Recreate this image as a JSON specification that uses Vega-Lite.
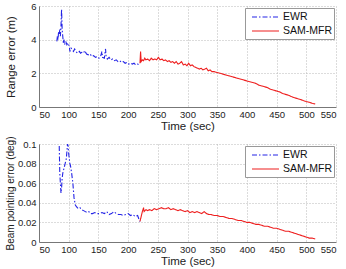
{
  "$schema": "https://vega.github.io/schema/vega-lite/v6.json",
  "autosize": {"type": "pad"},
  "padding": {"left": 5, "top": 1, "right": 5, "bottom": 0},
  "background": "white",
  "spacing": 4,
  "config": {
    "view": {"stroke": null},
    "font": "Liberation Sans",
    "axis": {
      "labelFont": "Liberation Sans",
      "titleFont": "Liberation Sans",
      "labelFontSize": 9.5,
      "titleFontSize": 11.5,
      "titleFontWeight": "normal",
      "labelColor": "#222",
      "titleColor": "#222",
      "domainColor": "#777",
      "domainWidth": 1,
      "ticks": false,
      "gridColor": "#b8b8b8",
      "gridDash": [1, 2],
      "gridWidth": 1,
      "labelPadding": 3
    },
    "axisX": {"labelPadding": 2, "titlePadding": 2},
    "legend": {
      "orient": "top-right",
      "offset": 2,
      "title": null,
      "symbolType": "M-1,0H3.5",
      "symbolSize": 144,
      "symbolStrokeWidth": 1.2,
      "symbolOffset": 4,
      "labelFont": "Liberation Sans",
      "labelFontSize": 10.5,
      "labelColor": "#111",
      "labelOffset": 18,
      "rowPadding": 1,
      "padding": 2,
      "strokeColor": "#999",
      "fillColor": "white"
    }
  },
  "datasets": {
    "range": [
      {"t": 80, "v": 3.9, "s": "EWR"}, {"t": 81, "v": 4.2, "s": "EWR"}, {"t": 82, "v": 4.0, "s": "EWR"},
      {"t": 83, "v": 4.5, "s": "EWR"}, {"t": 84, "v": 4.3, "s": "EWR"}, {"t": 85, "v": 4.6, "s": "EWR"},
      {"t": 86, "v": 4.2, "s": "EWR"}, {"t": 87, "v": 4.8, "s": "EWR"}, {"t": 88, "v": 5.8, "s": "EWR"},
      {"t": 89, "v": 4.6, "s": "EWR"}, {"t": 90, "v": 4.2, "s": "EWR"}, {"t": 91, "v": 3.8, "s": "EWR"},
      {"t": 92, "v": 4.0, "s": "EWR"}, {"t": 93, "v": 3.7, "s": "EWR"}, {"t": 95, "v": 3.9, "s": "EWR"},
      {"t": 97, "v": 3.7, "s": "EWR"}, {"t": 99, "v": 3.8, "s": "EWR"}, {"t": 101, "v": 3.6, "s": "EWR"},
      {"t": 102, "v": 3.3, "s": "EWR"}, {"t": 104, "v": 3.5, "s": "EWR"}, {"t": 106, "v": 3.4, "s": "EWR"},
      {"t": 108, "v": 3.3, "s": "EWR"}, {"t": 110, "v": 3.45, "s": "EWR"}, {"t": 112, "v": 3.3, "s": "EWR"},
      {"t": 115, "v": 3.2, "s": "EWR"}, {"t": 118, "v": 3.3, "s": "EWR"}, {"t": 120, "v": 3.2, "s": "EWR"},
      {"t": 122, "v": 3.25, "s": "EWR"}, {"t": 125, "v": 3.2, "s": "EWR"}, {"t": 127, "v": 3.35, "s": "EWR"},
      {"t": 130, "v": 3.15, "s": "EWR"}, {"t": 133, "v": 3.1, "s": "EWR"}, {"t": 136, "v": 3.15, "s": "EWR"},
      {"t": 139, "v": 3.0, "s": "EWR"}, {"t": 142, "v": 3.05, "s": "EWR"}, {"t": 145, "v": 2.95, "s": "EWR"},
      {"t": 148, "v": 3.0, "s": "EWR"}, {"t": 151, "v": 2.9, "s": "EWR"}, {"t": 154, "v": 3.05, "s": "EWR"},
      {"t": 156, "v": 3.3, "s": "EWR"}, {"t": 157, "v": 2.95, "s": "EWR"}, {"t": 160, "v": 2.9, "s": "EWR"},
      {"t": 162, "v": 3.45, "s": "EWR"}, {"t": 163, "v": 3.0, "s": "EWR"}, {"t": 165, "v": 2.85, "s": "EWR"},
      {"t": 168, "v": 2.95, "s": "EWR"}, {"t": 171, "v": 2.8, "s": "EWR"}, {"t": 174, "v": 2.85, "s": "EWR"},
      {"t": 177, "v": 2.75, "s": "EWR"}, {"t": 180, "v": 2.8, "s": "EWR"}, {"t": 183, "v": 2.7, "s": "EWR"},
      {"t": 186, "v": 2.75, "s": "EWR"}, {"t": 189, "v": 2.65, "s": "EWR"}, {"t": 192, "v": 2.7, "s": "EWR"},
      {"t": 195, "v": 2.6, "s": "EWR"}, {"t": 198, "v": 2.65, "s": "EWR"}, {"t": 201, "v": 2.55, "s": "EWR"},
      {"t": 204, "v": 2.6, "s": "EWR"}, {"t": 207, "v": 2.55, "s": "EWR"}, {"t": 210, "v": 2.6, "s": "EWR"},
      {"t": 213, "v": 2.5, "s": "EWR"}, {"t": 216, "v": 2.55, "s": "EWR"}, {"t": 219, "v": 2.5, "s": "EWR"},
      {"t": 220, "v": 2.6, "s": "SAM-MFR"}, {"t": 221, "v": 3.3, "s": "SAM-MFR"}, {"t": 222, "v": 2.7, "s": "SAM-MFR"},
      {"t": 224, "v": 2.8, "s": "SAM-MFR"}, {"t": 226, "v": 2.75, "s": "SAM-MFR"}, {"t": 228, "v": 2.9, "s": "SAM-MFR"},
      {"t": 230, "v": 2.8, "s": "SAM-MFR"}, {"t": 233, "v": 2.85, "s": "SAM-MFR"}, {"t": 236, "v": 2.75, "s": "SAM-MFR"},
      {"t": 239, "v": 2.9, "s": "SAM-MFR"}, {"t": 242, "v": 2.8, "s": "SAM-MFR"}, {"t": 245, "v": 2.85, "s": "SAM-MFR"},
      {"t": 248, "v": 2.8, "s": "SAM-MFR"}, {"t": 251, "v": 2.95, "s": "SAM-MFR"}, {"t": 254, "v": 2.8, "s": "SAM-MFR"},
      {"t": 257, "v": 2.85, "s": "SAM-MFR"}, {"t": 260, "v": 2.75, "s": "SAM-MFR"}, {"t": 263, "v": 2.8, "s": "SAM-MFR"},
      {"t": 266, "v": 2.7, "s": "SAM-MFR"}, {"t": 269, "v": 2.75, "s": "SAM-MFR"}, {"t": 272, "v": 2.65, "s": "SAM-MFR"},
      {"t": 275, "v": 2.7, "s": "SAM-MFR"}, {"t": 278, "v": 2.6, "s": "SAM-MFR"}, {"t": 281, "v": 2.7, "s": "SAM-MFR"},
      {"t": 284, "v": 2.55, "s": "SAM-MFR"}, {"t": 287, "v": 2.6, "s": "SAM-MFR"}, {"t": 290, "v": 2.7, "s": "SAM-MFR"},
      {"t": 293, "v": 2.5, "s": "SAM-MFR"}, {"t": 296, "v": 2.55, "s": "SAM-MFR"}, {"t": 299, "v": 2.45, "s": "SAM-MFR"},
      {"t": 302, "v": 2.6, "s": "SAM-MFR"}, {"t": 305, "v": 2.45, "s": "SAM-MFR"}, {"t": 308, "v": 2.5, "s": "SAM-MFR"},
      {"t": 311, "v": 2.4, "s": "SAM-MFR"}, {"t": 314, "v": 2.35, "s": "SAM-MFR"}, {"t": 317, "v": 2.3, "s": "SAM-MFR"},
      {"t": 320, "v": 2.25, "s": "SAM-MFR"}, {"t": 323, "v": 2.3, "s": "SAM-MFR"}, {"t": 326, "v": 2.2, "s": "SAM-MFR"},
      {"t": 329, "v": 2.25, "s": "SAM-MFR"}, {"t": 332, "v": 2.3, "s": "SAM-MFR"}, {"t": 335, "v": 2.15, "s": "SAM-MFR"},
      {"t": 338, "v": 2.2, "s": "SAM-MFR"}, {"t": 341, "v": 2.1, "s": "SAM-MFR"}, {"t": 345, "v": 2.1, "s": "SAM-MFR"},
      {"t": 350, "v": 2.05, "s": "SAM-MFR"}, {"t": 355, "v": 2.0, "s": "SAM-MFR"}, {"t": 360, "v": 1.95, "s": "SAM-MFR"},
      {"t": 365, "v": 1.9, "s": "SAM-MFR"}, {"t": 370, "v": 1.85, "s": "SAM-MFR"}, {"t": 375, "v": 1.8, "s": "SAM-MFR"},
      {"t": 380, "v": 1.75, "s": "SAM-MFR"}, {"t": 385, "v": 1.7, "s": "SAM-MFR"}, {"t": 390, "v": 1.65, "s": "SAM-MFR"},
      {"t": 395, "v": 1.6, "s": "SAM-MFR"}, {"t": 400, "v": 1.55, "s": "SAM-MFR"}, {"t": 405, "v": 1.5, "s": "SAM-MFR"},
      {"t": 410, "v": 1.45, "s": "SAM-MFR"}, {"t": 415, "v": 1.4, "s": "SAM-MFR"}, {"t": 420, "v": 1.3, "s": "SAM-MFR"},
      {"t": 425, "v": 1.25, "s": "SAM-MFR"}, {"t": 430, "v": 1.2, "s": "SAM-MFR"}, {"t": 435, "v": 1.15, "s": "SAM-MFR"},
      {"t": 440, "v": 1.05, "s": "SAM-MFR"}, {"t": 445, "v": 1.0, "s": "SAM-MFR"}, {"t": 450, "v": 0.95, "s": "SAM-MFR"},
      {"t": 455, "v": 0.9, "s": "SAM-MFR"}, {"t": 460, "v": 0.8, "s": "SAM-MFR"}, {"t": 465, "v": 0.75, "s": "SAM-MFR"},
      {"t": 470, "v": 0.7, "s": "SAM-MFR"}, {"t": 475, "v": 0.62, "s": "SAM-MFR"}, {"t": 480, "v": 0.55, "s": "SAM-MFR"},
      {"t": 485, "v": 0.5, "s": "SAM-MFR"}, {"t": 490, "v": 0.45, "s": "SAM-MFR"}, {"t": 495, "v": 0.38, "s": "SAM-MFR"},
      {"t": 500, "v": 0.32, "s": "SAM-MFR"}, {"t": 505, "v": 0.28, "s": "SAM-MFR"}, {"t": 510, "v": 0.22, "s": "SAM-MFR"},
      {"t": 515, "v": 0.18, "s": "SAM-MFR"}
    ],
    "beam": [
      {"t": 82, "v": 0.13, "s": "EWR"}, {"t": 84, "v": 0.1, "s": "EWR"}, {"t": 85, "v": 0.07, "s": "EWR"},
      {"t": 86, "v": 0.06, "s": "EWR"}, {"t": 87, "v": 0.05, "s": "EWR"}, {"t": 88, "v": 0.055, "s": "EWR"},
      {"t": 89, "v": 0.065, "s": "EWR"}, {"t": 90, "v": 0.07, "s": "EWR"}, {"t": 92, "v": 0.075, "s": "EWR"},
      {"t": 94, "v": 0.08, "s": "EWR"}, {"t": 96, "v": 0.085, "s": "EWR"}, {"t": 98, "v": 0.1, "s": "EWR"},
      {"t": 99, "v": 0.098, "s": "EWR"}, {"t": 100, "v": 0.09, "s": "EWR"}, {"t": 101, "v": 0.085, "s": "EWR"},
      {"t": 102, "v": 0.08, "s": "EWR"}, {"t": 103, "v": 0.078, "s": "EWR"}, {"t": 105, "v": 0.07, "s": "EWR"},
      {"t": 107, "v": 0.06, "s": "EWR"}, {"t": 109, "v": 0.045, "s": "EWR"}, {"t": 111, "v": 0.038, "s": "EWR"},
      {"t": 113, "v": 0.036, "s": "EWR"}, {"t": 116, "v": 0.034, "s": "EWR"}, {"t": 119, "v": 0.035, "s": "EWR"},
      {"t": 122, "v": 0.033, "s": "EWR"}, {"t": 125, "v": 0.032, "s": "EWR"}, {"t": 128, "v": 0.031, "s": "EWR"},
      {"t": 131, "v": 0.03, "s": "EWR"}, {"t": 134, "v": 0.031, "s": "EWR"}, {"t": 137, "v": 0.029, "s": "EWR"},
      {"t": 140, "v": 0.029, "s": "EWR"}, {"t": 144, "v": 0.03, "s": "EWR"}, {"t": 148, "v": 0.029, "s": "EWR"},
      {"t": 152, "v": 0.029, "s": "EWR"}, {"t": 156, "v": 0.03, "s": "EWR"}, {"t": 160, "v": 0.029, "s": "EWR"},
      {"t": 164, "v": 0.031, "s": "EWR"}, {"t": 168, "v": 0.028, "s": "EWR"}, {"t": 172, "v": 0.029, "s": "EWR"},
      {"t": 176, "v": 0.031, "s": "EWR"}, {"t": 180, "v": 0.029, "s": "EWR"}, {"t": 184, "v": 0.028, "s": "EWR"},
      {"t": 188, "v": 0.028, "s": "EWR"}, {"t": 192, "v": 0.027, "s": "EWR"}, {"t": 196, "v": 0.028, "s": "EWR"},
      {"t": 200, "v": 0.029, "s": "EWR"}, {"t": 204, "v": 0.027, "s": "EWR"}, {"t": 208, "v": 0.028, "s": "EWR"},
      {"t": 212, "v": 0.026, "s": "EWR"}, {"t": 216, "v": 0.027, "s": "EWR"}, {"t": 219, "v": 0.022, "s": "EWR"},
      {"t": 220, "v": 0.021, "s": "EWR"},
      {"t": 220, "v": 0.021, "s": "SAM-MFR"}, {"t": 222, "v": 0.026, "s": "SAM-MFR"}, {"t": 224, "v": 0.031, "s": "SAM-MFR"},
      {"t": 226, "v": 0.035, "s": "SAM-MFR"}, {"t": 227, "v": 0.031, "s": "SAM-MFR"}, {"t": 230, "v": 0.033, "s": "SAM-MFR"},
      {"t": 233, "v": 0.032, "s": "SAM-MFR"}, {"t": 236, "v": 0.033, "s": "SAM-MFR"}, {"t": 240, "v": 0.032, "s": "SAM-MFR"},
      {"t": 244, "v": 0.034, "s": "SAM-MFR"}, {"t": 248, "v": 0.033, "s": "SAM-MFR"}, {"t": 252, "v": 0.034, "s": "SAM-MFR"},
      {"t": 256, "v": 0.035, "s": "SAM-MFR"}, {"t": 260, "v": 0.034, "s": "SAM-MFR"}, {"t": 264, "v": 0.034, "s": "SAM-MFR"},
      {"t": 268, "v": 0.035, "s": "SAM-MFR"}, {"t": 272, "v": 0.033, "s": "SAM-MFR"}, {"t": 276, "v": 0.034, "s": "SAM-MFR"},
      {"t": 280, "v": 0.033, "s": "SAM-MFR"}, {"t": 284, "v": 0.032, "s": "SAM-MFR"}, {"t": 288, "v": 0.033, "s": "SAM-MFR"},
      {"t": 292, "v": 0.032, "s": "SAM-MFR"}, {"t": 296, "v": 0.031, "s": "SAM-MFR"}, {"t": 300, "v": 0.032, "s": "SAM-MFR"},
      {"t": 304, "v": 0.03, "s": "SAM-MFR"}, {"t": 308, "v": 0.031, "s": "SAM-MFR"}, {"t": 312, "v": 0.03, "s": "SAM-MFR"},
      {"t": 316, "v": 0.031, "s": "SAM-MFR"}, {"t": 320, "v": 0.03, "s": "SAM-MFR"}, {"t": 324, "v": 0.029, "s": "SAM-MFR"},
      {"t": 328, "v": 0.031, "s": "SAM-MFR"}, {"t": 332, "v": 0.029, "s": "SAM-MFR"}, {"t": 336, "v": 0.028, "s": "SAM-MFR"},
      {"t": 340, "v": 0.028, "s": "SAM-MFR"}, {"t": 345, "v": 0.027, "s": "SAM-MFR"}, {"t": 350, "v": 0.027, "s": "SAM-MFR"},
      {"t": 355, "v": 0.026, "s": "SAM-MFR"}, {"t": 360, "v": 0.026, "s": "SAM-MFR"}, {"t": 365, "v": 0.025, "s": "SAM-MFR"},
      {"t": 370, "v": 0.024, "s": "SAM-MFR"}, {"t": 375, "v": 0.024, "s": "SAM-MFR"}, {"t": 380, "v": 0.023, "s": "SAM-MFR"},
      {"t": 385, "v": 0.022, "s": "SAM-MFR"}, {"t": 390, "v": 0.022, "s": "SAM-MFR"}, {"t": 395, "v": 0.021, "s": "SAM-MFR"},
      {"t": 400, "v": 0.02, "s": "SAM-MFR"}, {"t": 405, "v": 0.02, "s": "SAM-MFR"}, {"t": 410, "v": 0.019, "s": "SAM-MFR"},
      {"t": 415, "v": 0.018, "s": "SAM-MFR"}, {"t": 420, "v": 0.018, "s": "SAM-MFR"}, {"t": 425, "v": 0.017, "s": "SAM-MFR"},
      {"t": 430, "v": 0.016, "s": "SAM-MFR"}, {"t": 435, "v": 0.016, "s": "SAM-MFR"}, {"t": 440, "v": 0.015, "s": "SAM-MFR"},
      {"t": 445, "v": 0.014, "s": "SAM-MFR"}, {"t": 450, "v": 0.014, "s": "SAM-MFR"}, {"t": 455, "v": 0.013, "s": "SAM-MFR"},
      {"t": 460, "v": 0.012, "s": "SAM-MFR"}, {"t": 465, "v": 0.011, "s": "SAM-MFR"}, {"t": 470, "v": 0.011, "s": "SAM-MFR"},
      {"t": 475, "v": 0.01, "s": "SAM-MFR"}, {"t": 480, "v": 0.009, "s": "SAM-MFR"}, {"t": 485, "v": 0.008, "s": "SAM-MFR"},
      {"t": 490, "v": 0.007, "s": "SAM-MFR"}, {"t": 495, "v": 0.006, "s": "SAM-MFR"}, {"t": 500, "v": 0.005, "s": "SAM-MFR"},
      {"t": 505, "v": 0.004, "s": "SAM-MFR"}, {"t": 510, "v": 0.004, "s": "SAM-MFR"}, {"t": 515, "v": 0.003, "s": "SAM-MFR"}
    ]
  },
  "vconcat": [
    {
      "width": 297,
      "height": 101,
      "data": {"name": "range"},
      "mark": {"type": "line", "strokeWidth": 1.1, "clip": true},
      "encoding": {
        "x": {
          "field": "t", "type": "quantitative",
          "scale": {"domain": [50, 550], "nice": false},
          "axis": {"values": [50, 100, 150, 200, 250, 300, 350, 400, 450, 500, 550], "title": "Time (sec)"}
        },
        "y": {
          "field": "v", "type": "quantitative",
          "scale": {"domain": [0, 6], "nice": false},
          "axis": {"values": [0, 2, 4, 6], "title": "Range error (m)", "titlePadding": 14}
        },
        "color": {
          "field": "s", "type": "nominal",
          "scale": {"domain": ["EWR", "SAM-MFR"], "range": ["#2424e6", "#ee1f1f"]}
        },
        "strokeDash": {
          "field": "s", "type": "nominal",
          "scale": {"domain": ["EWR", "SAM-MFR"], "range": [[5, 2, 1.5, 2], [1, 0]]}
        },
        "order": {"field": "t", "type": "quantitative"}
      }
    },
    {
      "width": 297,
      "height": 98,
      "data": {"name": "beam"},
      "mark": {"type": "line", "strokeWidth": 1.1, "clip": true},
      "encoding": {
        "x": {
          "field": "t", "type": "quantitative",
          "scale": {"domain": [50, 550], "nice": false},
          "axis": {"values": [50, 100, 150, 200, 250, 300, 350, 400, 450, 500, 550], "title": "Time (sec)"}
        },
        "y": {
          "field": "v", "type": "quantitative",
          "scale": {"domain": [0, 0.1], "nice": false},
          "axis": {"values": [0, 0.02, 0.04, 0.06, 0.08, 0.1], "format": "~g", "title": "Beam pointing error (deg)", "titleFontSize": 10, "titlePadding": 2}
        },
        "color": {
          "field": "s", "type": "nominal",
          "scale": {"domain": ["EWR", "SAM-MFR"], "range": ["#2424e6", "#ee1f1f"]}
        },
        "strokeDash": {
          "field": "s", "type": "nominal",
          "scale": {"domain": ["EWR", "SAM-MFR"], "range": [[5, 2, 1.5, 2], [1, 0]]}
        },
        "order": {"field": "t", "type": "quantitative"}
      }
    }
  ],
  "resolve": {"scale": {"color": "independent", "strokeDash": "independent", "y": "independent"}, "legend": {"color": "independent", "strokeDash": "independent"}}
}
